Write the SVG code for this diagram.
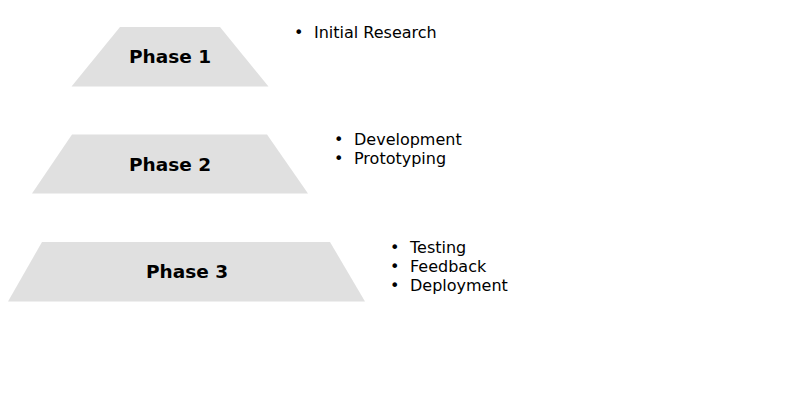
<svg xmlns="http://www.w3.org/2000/svg" width="800" height="400" viewBox="0 0 800 400">
<style>
.shape{fill:#e0e0e0;}
.title{font-family:"DejaVu Sans",sans-serif;font-size:18.5px;font-weight:bold;fill:#000;text-anchor:middle;}
.item{font-family:"DejaVu Sans",sans-serif;font-size:16px;fill:#000;}
</style>
<rect width="800" height="400" fill="#fff"/>
<g id="phase1">
<polygon class="shape" points="120,27 220,27 268.5,86.5 71.5,86.5"/>
<text class="title" x="170" y="63">Phase 1</text>
<text class="item" x="294" y="38">•</text>
<text class="item" x="314" y="38">Initial Research</text>
</g>
<g id="phase2">
<polygon class="shape" points="72,134.5 267,134.5 308,193.5 32,193.5"/>
<text class="title" x="170" y="171">Phase 2</text>
<text class="item" x="334" y="145">•</text>
<text class="item" x="354" y="145">Development</text>
<text class="item" x="334" y="164">•</text>
<text class="item" x="354" y="164">Prototyping</text>
</g>
<g id="phase3">
<polygon class="shape" points="42,242 330,242 365,301.5 8,301.5"/>
<text class="title" x="187" y="278">Phase 3</text>
<text class="item" x="390" y="253">•</text>
<text class="item" x="410" y="253">Testing</text>
<text class="item" x="390" y="272">•</text>
<text class="item" x="410" y="272">Feedback</text>
<text class="item" x="390" y="291">•</text>
<text class="item" x="410" y="291">Deployment</text>
</g>
<g id="connectors"></g>
</svg>
